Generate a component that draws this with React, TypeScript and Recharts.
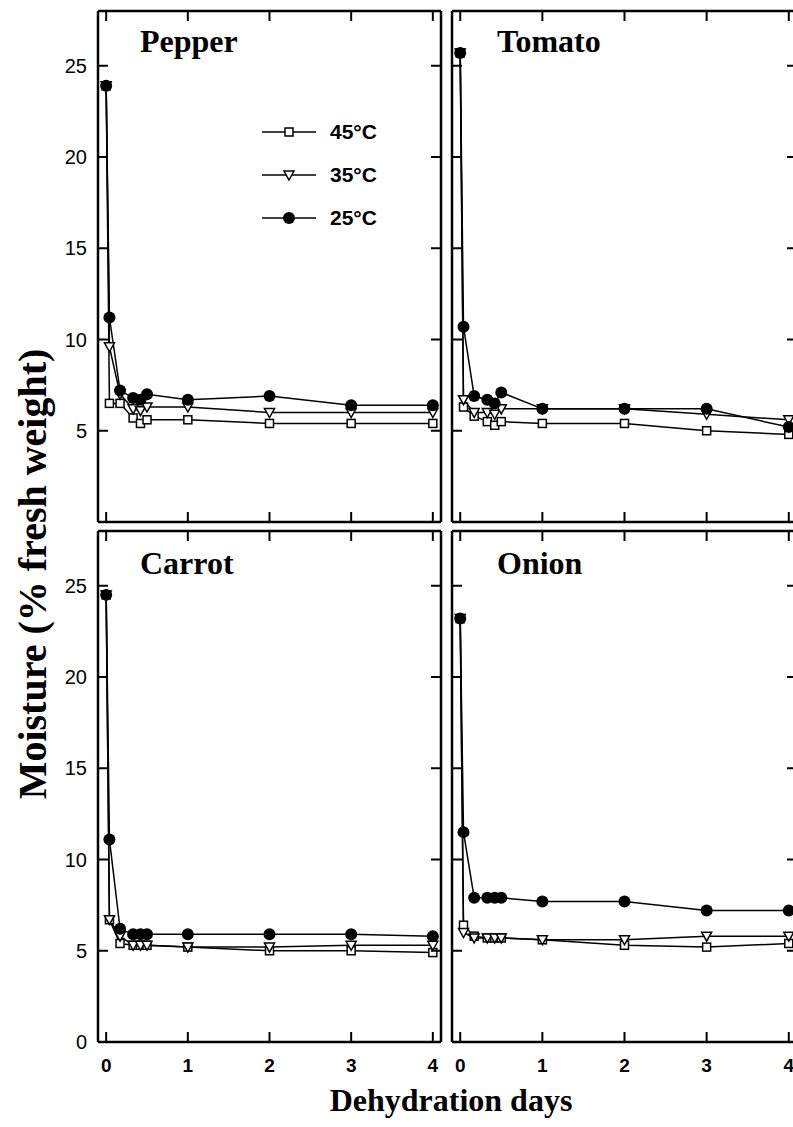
import React from 'react';
import { LineChart, Line, XAxis, YAxis, Legend } from 'recharts';

// sampling times in days (0, 1 h, 4 h, 8 h, 10 h, 12 h, then daily)
const days = [0, 0.04, 0.17, 0.33, 0.42, 0.5, 1, 2, 3, 4];
const xTicks = [0, 1, 2, 3, 4];
const yTicks = [0, 5, 10, 15, 20, 25];

const pepper45 = [23.9, 6.5, 6.5, 5.7, 5.4, 5.6, 5.6, 5.4, 5.4, 5.4];
const pepper35 = [23.9, 9.6, 7.0, 6.2, 6.1, 6.3, 6.3, 6.0, 6.0, 6.0];
const pepper25 = [23.9, 11.2, 7.2, 6.8, 6.7, 7.0, 6.7, 6.9, 6.4, 6.4];

const tomato45 = [25.7, 6.3, 5.8, 5.5, 5.3, 5.5, 5.4, 5.4, 5.0, 4.8];
const tomato35 = [25.7, 6.7, 6.0, 6.0, 5.9, 6.2, 6.2, 6.2, 5.9, 5.6];
const tomato25 = [25.7, 10.7, 6.9, 6.7, 6.5, 7.1, 6.2, 6.2, 6.2, 5.2];

const carrot45 = [24.5, 6.7, 5.4, 5.3, 5.3, 5.3, 5.2, 5.0, 5.0, 4.9];
const carrot35 = [24.5, 6.7, 5.8, 5.3, 5.3, 5.3, 5.2, 5.2, 5.3, 5.3];
const carrot25 = [24.5, 11.1, 6.2, 5.9, 5.9, 5.9, 5.9, 5.9, 5.9, 5.8];

const onion45 = [23.2, 6.4, 5.8, 5.7, 5.7, 5.7, 5.6, 5.3, 5.2, 5.4];
const onion35 = [23.2, 6.0, 5.7, 5.7, 5.7, 5.7, 5.6, 5.6, 5.8, 5.8];
const onion25 = [23.2, 11.5, 7.9, 7.9, 7.9, 7.9, 7.7, 7.7, 7.2, 7.2];

const seriesNames: Record<string, string> = { t45: '45°C', t35: '35°C', t25: '25°C' };
const legendOrder = ['t45', 't35', 't25'];

const rows = (a: number[], b: number[], c: number[]) =>
  days.map((day, i) => ({ day, t45: a[i], t35: b[i], t25: c[i] }));

const SANS = '"Liberation Sans", Arial, sans-serif';
const SERIF = '"Liberation Serif", "Times New Roman", serif';
const TICK = 10;

const marker = (key: string, cx: number, cy: number, k?: React.Key) => {
  if (key === 't45') {
    return <rect key={k} x={cx - 4} y={cy - 4} width={8} height={8} fill="#fff" stroke="#000" strokeWidth={1.5} />;
  }
  if (key === 't35') {
    return (
      <polygon
        key={k}
        points={`${cx - 5},${cy - 4} ${cx + 5},${cy - 4} ${cx},${cy + 5}`}
        fill="#fff"
        stroke="#000"
        strokeWidth={1.5}
      />
    );
  }
  return <circle key={k} cx={cx} cy={cy} r={6} fill="#000" />;
};

const dotFor = (key: string) => (p: any) => marker(key, p.cx, p.cy, `${key}-${p.index}`);

// inward tick marks, with optional outside labels
const leftTick = (labels: boolean) => (p: any) => (
  <g>
    <line x1={p.x} y1={p.y} x2={p.x + TICK} y2={p.y} stroke="#000" strokeWidth={2} />
    {labels && (
      <text x={p.x - 11} y={p.y} dy="0.36em" textAnchor="end" fontFamily={SANS} fontSize={20} fill="#000">
        {p.payload.value}
      </text>
    )}
  </g>
);
const rightTick = (p: any) => (
  <line x1={p.x} y1={p.y} x2={p.x - TICK} y2={p.y} stroke="#000" strokeWidth={2} />
);
const topTick = (p: any) => (
  <line x1={p.x} y1={p.y} x2={p.x} y2={p.y + TICK} stroke="#000" strokeWidth={2} />
);
const bottomTick = (labels: boolean) => (p: any) => (
  <g>
    <line x1={p.x} y1={p.y} x2={p.x} y2={p.y - TICK} stroke="#000" strokeWidth={2} />
    {labels && (
      <text x={p.x} y={p.y + 30} textAnchor="middle" fontFamily={SANS} fontWeight="bold" fontSize={19} fill="#000">
        {p.payload.value}
      </text>
    )}
  </g>
);

const renderLegend = (props: any) => {
  const items = [...(props.payload || [])].sort(
    (a: any, b: any) => legendOrder.indexOf(a.dataKey) - legendOrder.indexOf(b.dataKey)
  );
  return (
    <div>
      {items.map((entry: any) => (
        <div key={entry.dataKey} style={{ display: 'flex', alignItems: 'center', height: 43 }}>
          <svg width={54} height={14}>
            <line x1={0} y1={7} x2={54} y2={7} stroke="#000" strokeWidth={1.5} />
            {marker(entry.dataKey, 27, 7)}
          </svg>
          <span style={{ marginLeft: 14, fontFamily: SANS, fontWeight: 'bold', fontSize: 21, color: '#000' }}>
            {seriesNames[entry.dataKey]}
          </span>
        </div>
      ))}
    </div>
  );
};

type PanelProps = {
  data: ReturnType<typeof rows>;
  left: number;
  top: number;
  showY: boolean;
  showX: boolean;
  showLegend?: boolean;
};

const frame = { stroke: '#000', strokeWidth: 2.5 };

const Panel: React.FC<PanelProps> = ({ data, left, top, showY, showX, showLegend }) => {
  const yAxisWidth = showY ? 98 : 6;
  const xAxisHeight = showX ? 40 : 6;
  const plotW = showY ? 343 : 345;
  const width = yAxisWidth + plotW + 6;
  const height = 8 + 511 + xAxisHeight;
  return (
    <div style={{ position: 'absolute', left, top }}>
      <LineChart width={width} height={height} data={data} margin={{ top: 0, right: 0, bottom: 0, left: 0 }}>
        <XAxis xAxisId="b" dataKey="day" type="number" domain={[-0.1, 4.1]} ticks={xTicks}
          orientation="bottom" height={xAxisHeight} tickSize={0} tickMargin={0}
          axisLine={frame} tickLine={false} tick={bottomTick(showX)} />
        <XAxis xAxisId="t" dataKey="day" type="number" domain={[-0.1, 4.1]} ticks={xTicks}
          orientation="top" height={8} tickSize={0} tickMargin={0}
          axisLine={frame} tickLine={false} tick={topTick} />
        <YAxis yAxisId="l" type="number" domain={[0, 28]} ticks={yTicks}
          orientation="left" width={yAxisWidth} tickSize={0} tickMargin={0}
          axisLine={frame} tickLine={false} tick={leftTick(showY)} />
        <YAxis yAxisId="r" dataKey="t25" type="number" domain={[0, 28]} ticks={yTicks}
          orientation="right" width={6} tickSize={0} tickMargin={0}
          axisLine={frame} tickLine={false} tick={rightTick} />
        {showLegend && (
          <Legend
            layout="vertical"
            align="center"
            verticalAlign="middle"
            content={renderLegend}
            wrapperStyle={{ left: 262, top: 107.5, width: 140 }}
          />
        )}
        {legendOrder.map((key) => (
          <Line
            key={key}
            xAxisId="b"
            yAxisId="l"
            dataKey={key}
            name={seriesNames[key]}
            stroke="#000"
            strokeWidth={1.5}
            dot={dotFor(key)}
            activeDot={false}
            isAnimationActive={false}
          />
        ))}
      </LineChart>
    </div>
  );
};

const App: React.FC = () => (
  <div style={{ position: 'absolute', left: 0, top: 0, width: 793, height: 1127, overflow: 'hidden', background: '#fff' }}>
    <Panel data={rows(pepper45, pepper35, pepper25)} left={0} top={3} showY showX={false} showLegend />
    <Panel data={rows(tomato45, tomato35, tomato25)} left={446} top={3} showY={false} showX={false} />
    <Panel data={rows(carrot45, carrot35, carrot25)} left={0} top={523} showY showX />
    <Panel data={rows(onion45, onion35, onion25)} left={446} top={523} showY={false} showX />
    <svg width={793} height={1127} style={{ position: 'absolute', left: 0, top: 0, pointerEvents: 'none' }}>
      <g fontFamily={SERIF} fontWeight="bold" fontSize={32} fill="#000">
        <text x={140} y={52}>Pepper</text>
        <text x={497} y={52}>Tomato</text>
        <text x={140} y={574}>Carrot</text>
        <text x={497} y={574}>Onion</text>
      </g>
      <text x={451} y={1111} textAnchor="middle" fontFamily={SERIF} fontWeight="bold" fontSize={32} fill="#000">
        Dehydration days
      </text>
      <text
        transform="translate(46 574) rotate(-90)"
        textAnchor="middle"
        fontFamily={SERIF}
        fontWeight="bold"
        fontSize={40}
        fill="#000"
      >
        Moisture (% fresh weight)
      </text>
    </svg>
  </div>
);

export default App;
